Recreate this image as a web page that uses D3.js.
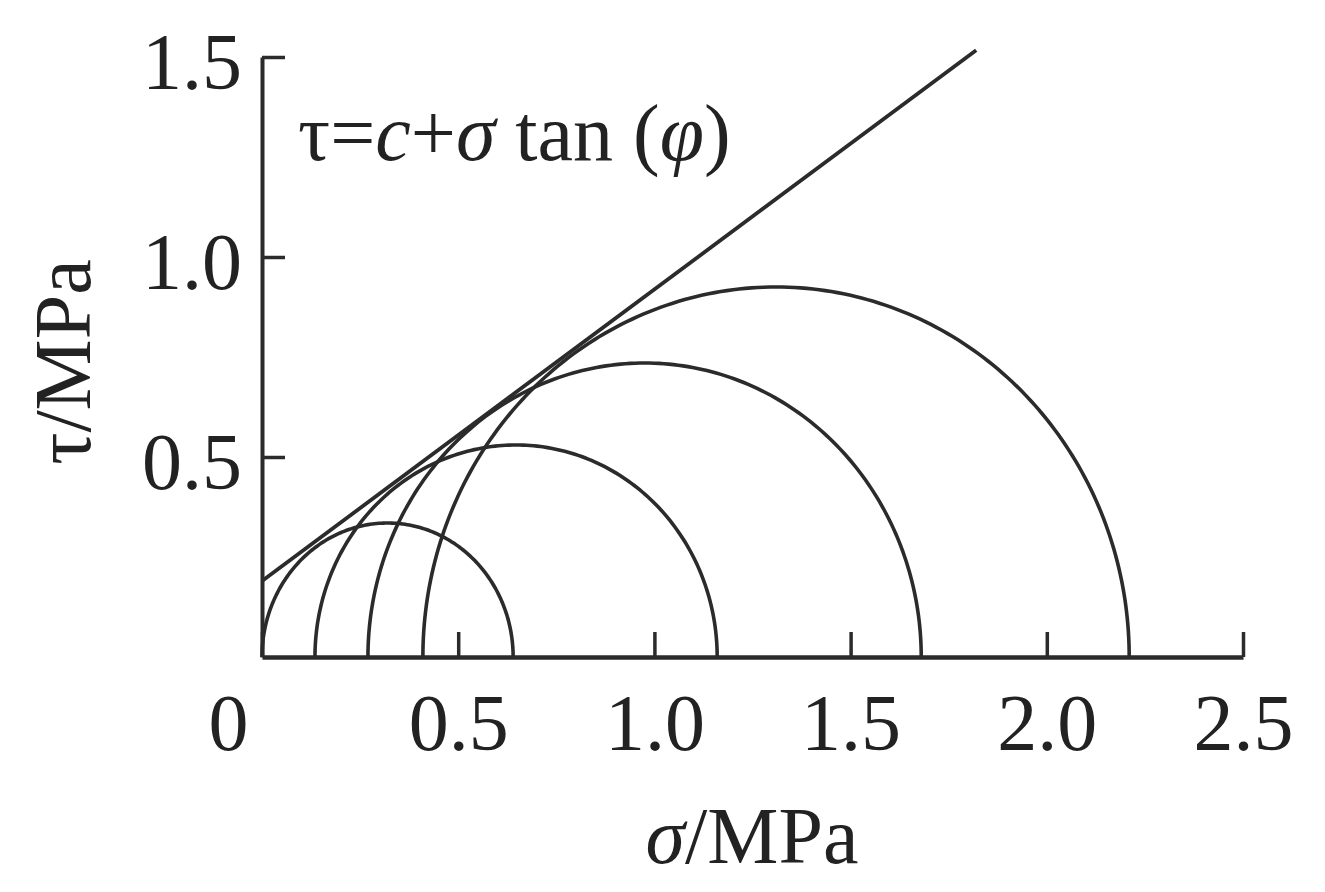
<!DOCTYPE html>
<html>
<head>
<meta charset="utf-8">
<script src="https://cdn.jsdelivr.net/npm/d3@7/dist/d3.min.js"></script>
<style>
  html, body { margin: 0; padding: 0; background: #fff; }
  svg text { font-family: "Liberation Serif", "Times New Roman", serif; fill: #222; }
</style>
</head>
<body>
<svg id="chart" width="1325" height="892"></svg>
<script>
// ---- data ----
const xTicks = [0, 0.5, 1.0, 1.5, 2.0, 2.5];
const xTickLabels = ["0", "0.5", "1.0", "1.5", "2.0", "2.5"];
const yTicks = [0.5, 1.0, 1.5];
const yTickLabels = ["0.5", "1.0", "1.5"];
const sigma3 = [0, 0.135, 0.27, 0.41];       // left end of each Mohr circle (MPa)
const sigma1 = [0.64, 1.16, 1.68, 2.21];     // right end of each Mohr circle (MPa)
const tauMax = [0.335, 0.53, 0.735, 0.925];  // peak height of each circle (MPa)
const cohesion = 0.19;                       // c (MPa)
const tanPhi = 0.729;                        // tan(φ)
const lineSigma = [0, 1.82];                 // extent of the envelope line

// ---- layout ----
const svg = d3.select("#chart");
const x = d3.scaleLinear().domain([0, 2.5]).range([262, 1243]);
const y = d3.scaleLinear().domain([0, 1.5]).range([657, 57]);
const ink = "#2b2b2b";
const fs = 80;

// circles (semi-ellipses in data space)
const angles = d3.range(0, 181, 1).map(a => a * Math.PI / 180);
const line = d3.line().x(d => x(d[0])).y(d => y(d[1]));
const circles = sigma3.map((s3, i) => ({ s3, s1: sigma1[i], h: tauMax[i] }));
svg.append("g").selectAll("path").data(circles).join("path")
  .attr("d", c => {
    const cx = (c.s1 + c.s3) / 2, r = (c.s1 - c.s3) / 2;
    return line(angles.map(a => [cx + r * Math.cos(a), c.h * Math.sin(a)]));
  })
  .attr("fill", "none").attr("stroke", ink).attr("stroke-width", 3.6);

// failure envelope
svg.append("path")
  .attr("d", line(lineSigma.map(s => [s, cohesion + tanPhi * s])))
  .attr("fill", "none").attr("stroke", ink).attr("stroke-width", 3.8);

// x axis
const xAxis = d3.axisBottom(x).tickValues(xTicks)
  .tickSizeInner(-25).tickSizeOuter(0).tickPadding(36)
  .tickFormat((d, i) => xTickLabels[i]);
const gx = svg.append("g").attr("transform", `translate(0,${y(0)})`).call(xAxis);
gx.select(".domain").attr("stroke", ink).attr("stroke-width", 4.5);
gx.selectAll(".tick line").attr("stroke", ink).attr("stroke-width", 3.5);
gx.selectAll(".tick text").attr("font-size", fs).attr("font-family", "Liberation Serif")
  .attr("fill", "#222")
  .attr("dx", d => d === 0 ? -34 : 0);

// y axis
const yAxis = d3.axisLeft(y).tickValues(yTicks)
  .tickSizeInner(-23).tickSizeOuter(0).tickPadding(20)
  .tickFormat((d, i) => yTickLabels[i]);
const gy = svg.append("g").attr("transform", `translate(${x(0)},0)`).call(yAxis);
gy.select(".domain").attr("stroke", ink).attr("stroke-width", 4);
gy.selectAll(".tick line").attr("stroke", ink).attr("stroke-width", 3.5);
gy.selectAll(".tick text").attr("font-size", fs).attr("font-family", "Liberation Serif")
  .attr("fill", "#222").attr("dy", "0.39em");

// axis titles
const xt = svg.append("text").attr("x", 752).attr("y", 863)
  .attr("text-anchor", "middle").attr("font-size", fs);
xt.append("tspan").attr("font-style", "italic").text("σ");
xt.append("tspan").text("/MPa");

svg.append("text").attr("transform", "translate(90,362) rotate(-90)")
  .attr("text-anchor", "middle").attr("font-size", fs).text("τ/MPa");

// formula
const f = svg.append("text").attr("x", 298).attr("y", 160).attr("font-size", fs);
f.append("tspan").text("τ=");
f.append("tspan").attr("font-style", "italic").text("c");
f.append("tspan").text("+");
f.append("tspan").attr("font-style", "italic").text("σ");
f.append("tspan").text(" tan (");
f.append("tspan").attr("font-style", "italic").text("φ");
f.append("tspan").text(")");
</script>
</body>
</html>
